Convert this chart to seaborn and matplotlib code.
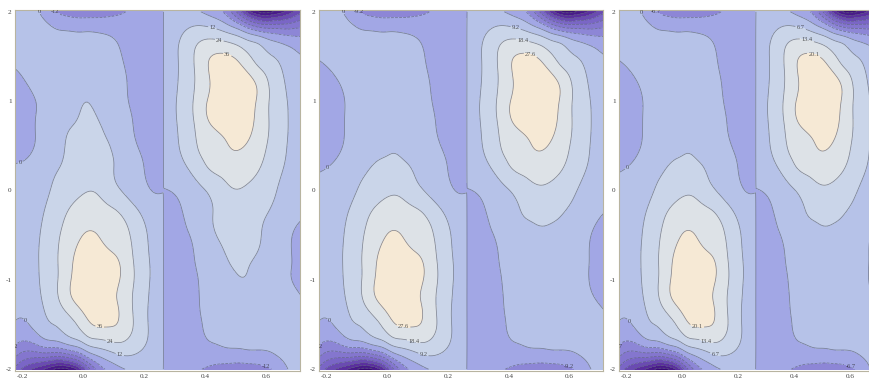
import numpy as np
import matplotlib
matplotlib.use("Agg")
import matplotlib.pyplot as plt
import matplotlib.tri as mtri
import seaborn as sns

# ---------------- data ----------------
# left-half grid columns (x) and rows (y); right half is the point mirror
x_left = np.array([-0.23, -0.15, -0.10, -0.05, 0.00, 0.05, 0.10, 0.15, 0.20, 0.261])
y_rows = np.array([2.0, 1.75, 1.5, 1.25, 1.0, 0.75, 0.5, 0.25, 0.0,
                   -0.25, -0.5, -0.75, -1.0, -1.25, -1.5, -1.75, -2.0])
mirror_x = 0.262

# field values in units of the contour step (panel 1)
field_a = np.array([
    [0.33, 0.08, -0.90, -1.40, -1.60, -1.50, -1.30, -0.90, -0.60, -0.50],
    [0.42, 0.42, 0.25, 0.17, 0.12, 0.08, -0.08, -0.25, -0.33, -0.33],
    [0.17, 0.42, 0.50, 0.50, 0.46, 0.33, 0.12, -0.08, -0.25, -0.33],
    [-0.17, 0.33, 0.58, 0.71, 0.75, 0.58, 0.25, -0.04, -0.25, -0.33],
    [-0.25, 0.04, 0.58, 0.88, 1.00, 0.83, 0.33, -0.02, -0.25, -0.33],
    [-0.29, 0.08, 0.67, 0.96, 1.08, 1.04, 0.58, 0.08, -0.21, -0.33],
    [-0.25, 0.08, 0.75, 1.04, 1.21, 1.17, 0.92, 0.25, -0.17, -0.33],
    [0.08, 0.42, 0.92, 1.08, 1.33, 1.33, 1.00, 0.50, -0.02, -0.33],
    [0.33, 0.67, 1.08, 1.50, 1.92, 1.88, 1.25, 0.67, 0.17, -0.04],
    [0.42, 0.83, 1.33, 2.08, 2.50, 2.42, 2.17, 1.55, 0.75, 0.33],
    [0.50, 0.92, 1.58, 2.50, 3.04, 3.00, 2.45, 2.05, 1.15, 0.42],
    [0.50, 0.96, 1.67, 2.75, 3.33, 3.33, 3.15, 2.25, 1.25, 0.42],
    [0.42, 0.92, 1.67, 2.83, 3.67, 3.75, 3.30, 2.35, 1.30, 0.42],
    [0.25, 0.75, 1.58, 2.67, 3.45, 3.50, 3.15, 2.20, 1.20, 0.33],
    [-0.02, 0.42, 1.00, 1.55, 2.50, 3.15, 3.10, 2.30, 1.20, 0.42],
    [-1.00, -1.17, -0.83, -0.25, 0.50, 1.15, 1.60, 1.55, 1.00, 0.42],
    [-3.00, -5.50, -7.00, -7.20, -4.50, -1.50, -0.50, 0.12, 0.17, 0.17],
])

# panels 2 and 3 (shorter tongue, wider left bulge)
field_b = np.array([
    [0.33, 0.08, -0.90, -1.40, -1.60, -1.50, -1.30, -0.90, -0.60, -0.50],
    [0.42, 0.40, 0.25, 0.17, 0.12, 0.08, -0.08, -0.25, -0.33, -0.33],
    [0.05, 0.35, 0.45, 0.45, 0.42, 0.30, 0.10, -0.08, -0.25, -0.33],
    [-0.30, 0.10, 0.40, 0.55, 0.60, 0.50, 0.20, -0.05, -0.25, -0.33],
    [-0.40, -0.10, 0.40, 0.65, 0.72, 0.62, 0.30, -0.02, -0.25, -0.33],
    [-0.45, -0.10, 0.45, 0.75, 0.82, 0.78, 0.45, 0.05, -0.20, -0.33],
    [-0.40, -0.05, 0.55, 0.85, 0.95, 0.92, 0.70, 0.20, -0.17, -0.33],
    [-0.10, 0.30, 0.80, 1.02, 1.15, 1.12, 0.90, 0.45, -0.02, -0.33],
    [0.30, 0.60, 1.00, 1.40, 1.80, 1.75, 1.20, 0.65, 0.17, -0.04],
    [0.42, 0.83, 1.33, 2.08, 2.50, 2.42, 2.17, 1.55, 0.75, 0.33],
    [0.50, 0.92, 1.58, 2.50, 3.04, 3.00, 2.45, 2.05, 1.15, 0.42],
    [0.50, 0.96, 1.67, 2.75, 3.33, 3.33, 3.15, 2.25, 1.25, 0.42],
    [0.42, 0.92, 1.67, 2.83, 3.67, 3.75, 3.30, 2.35, 1.30, 0.42],
    [0.25, 0.75, 1.58, 2.67, 3.45, 3.50, 3.15, 2.20, 1.20, 0.33],
    [-0.02, 0.42, 1.00, 1.55, 2.50, 3.15, 3.10, 2.30, 1.20, 0.42],
    [-1.00, -1.17, -0.83, -0.25, 0.50, 1.15, 1.60, 1.55, 1.00, 0.42],
    [-3.00, -5.50, -7.00, -7.20, -4.50, -1.50, -0.50, 0.12, 0.17, 0.17],
])

contour_steps = [12, 9.2, 6.7]
panel_fields = [field_a, field_b, field_b]
panel_xmax = [0.71, 0.71, 0.665]
level_units = [-8, -7, -6, -5, -4, -3, -2, -1, 0, 1, 2, 3, 5]
x_ticks = [-0.2, 0.0, 0.2, 0.4, 0.6]
x_tick_labels = ["-0.2", "0.0", "0.2", "0.4", "0.6"]
y_ticks = [-2, -1, 0, 1, 2]
y_tick_labels = ["-2", "-1", "0", "1", "2"]

# where each labelled contour gets its label (layout only)
label_spots = {
    1: [(0.425, 1.85), (0.12, -1.82)],
    2: [(0.45, 1.75), (0.087, -1.68)],
    3: [(0.48, 1.60), (0.054, -1.49)],
    0: [(-0.205, -1.50), (-0.205, 0.29), (-0.166, 1.97), (0.69, 1.5), (0.69, -0.9)],
    -1: [(-0.11, 1.97), (-0.186, -1.96), (0.60, -1.96)],
}

# ---------------- style ----------------
sns.set_style("white")
plt.rcParams["font.family"] = ["Liberation Serif", "DejaVu Sans"]

dark_part = sns.blend_palette(["#360872", "#5a2f9e", "#7a66c6", "#8d86d6"], n_colors=7)
band_colors = list(dark_part) + ["#a2a7e5", "#b6c2e8", "#cad5e9", "#dde2e7", "#f6e9d5"]
line_kw = dict(colors="#5e6478", linewidths=0.55, alpha=0.75)


def gauss_1d(z, sigma, axis):
    r = int(3 * sigma)
    k = np.exp(-0.5 * (np.arange(-r, r + 1) / sigma) ** 2)
    k /= k.sum()
    pad = [(0, 0), (0, 0)]
    pad[axis] = (r, r)
    zp = np.pad(z, pad, mode="reflect", reflect_type="odd")
    return np.apply_along_axis(lambda v: np.convolve(v, k, mode="valid"), axis, zp)


def smooth_half(xs, ys, vals, nx=80, ny=280):
    X, Y = np.meshgrid(xs, ys)
    tri = mtri.Triangulation(X.ravel(), Y.ravel())
    interp = mtri.CubicTriInterpolator(tri, vals.ravel(), kind="min_E")
    eps = 1e-7
    xf = np.linspace(xs.min() + eps, xs.max() - eps, nx)
    yf = np.linspace(ys.min() + eps, ys.max() - eps, ny)
    XF, YF = np.meshgrid(xf, yf)
    z = np.ma.filled(interp(XF, YF), np.nan)
    z = gauss_1d(gauss_1d(z, 2.0, 1), 3.0, 0)
    return xf, yf, z


fig = plt.figure(figsize=(8.69, 3.9), dpi=100)
W, H = 869.0, 390.0
frames = [(15, 300), (319, 603), (619, 869)]
top_px, bot_px = 10, 371

for field, step, xmax, (l_px, r_px) in zip(panel_fields, contour_steps, panel_xmax, frames):
    ax = fig.add_axes([l_px / W, 1 - bot_px / H, (r_px - l_px) / W, (bot_px - top_px) / H])
    x_right = 2 * mirror_x - x_left[::-1]
    vals_right = field[::-1, ::-1]
    xl, yf, zl = smooth_half(x_left, y_rows, field)
    xr, _, zr = smooth_half(x_right, y_rows, vals_right)
    xs = np.concatenate([xl, xr])
    zs = np.concatenate([zl, zr], axis=1) * step
    levels = np.array(level_units) * step
    ax.contourf(xs, yf, zs, levels=levels, colors=band_colors, extend="min")
    plain_levels = [u * step for u in level_units[:-1] if u not in label_spots]
    ax.contour(xs, yf, zs, levels=plain_levels, **line_kw)
    for unit, pts in label_spots.items():
        cs_one = ax.contour(xs, yf, zs, levels=[unit * step], **line_kw)
        spots = [p for p in pts if p[0] < xmax - 0.03]
        if not spots:
            continue
        texts = ax.clabel(cs_one,
                          fmt=lambda v: f"{v:.4g}" if abs(v) > 1e-9 else "0",
                          fontsize=4.6, inline=True, inline_spacing=1,
                          colors="#222222", manual=spots)
        for t in texts:
            t.set_rotation(0)
    ax.set_xlim(-0.225, xmax)
    ax.set_ylim(-2.02, 2.02)
    ax.set_xticks(x_ticks)
    ax.set_xticklabels(x_tick_labels)
    ax.set_yticks(y_ticks)
    ax.set_yticklabels(y_tick_labels)
    ax.tick_params(direction="in", length=2, width=0.5, colors="#9a9a9a",
                   labelcolor="#444444", labelsize=5.2, pad=2.5)
    for sp in ax.spines.values():
        sp.set_color("#b8b4a0")
        sp.set_linewidth(0.8)

fig.savefig("out.png", dpi=100)
